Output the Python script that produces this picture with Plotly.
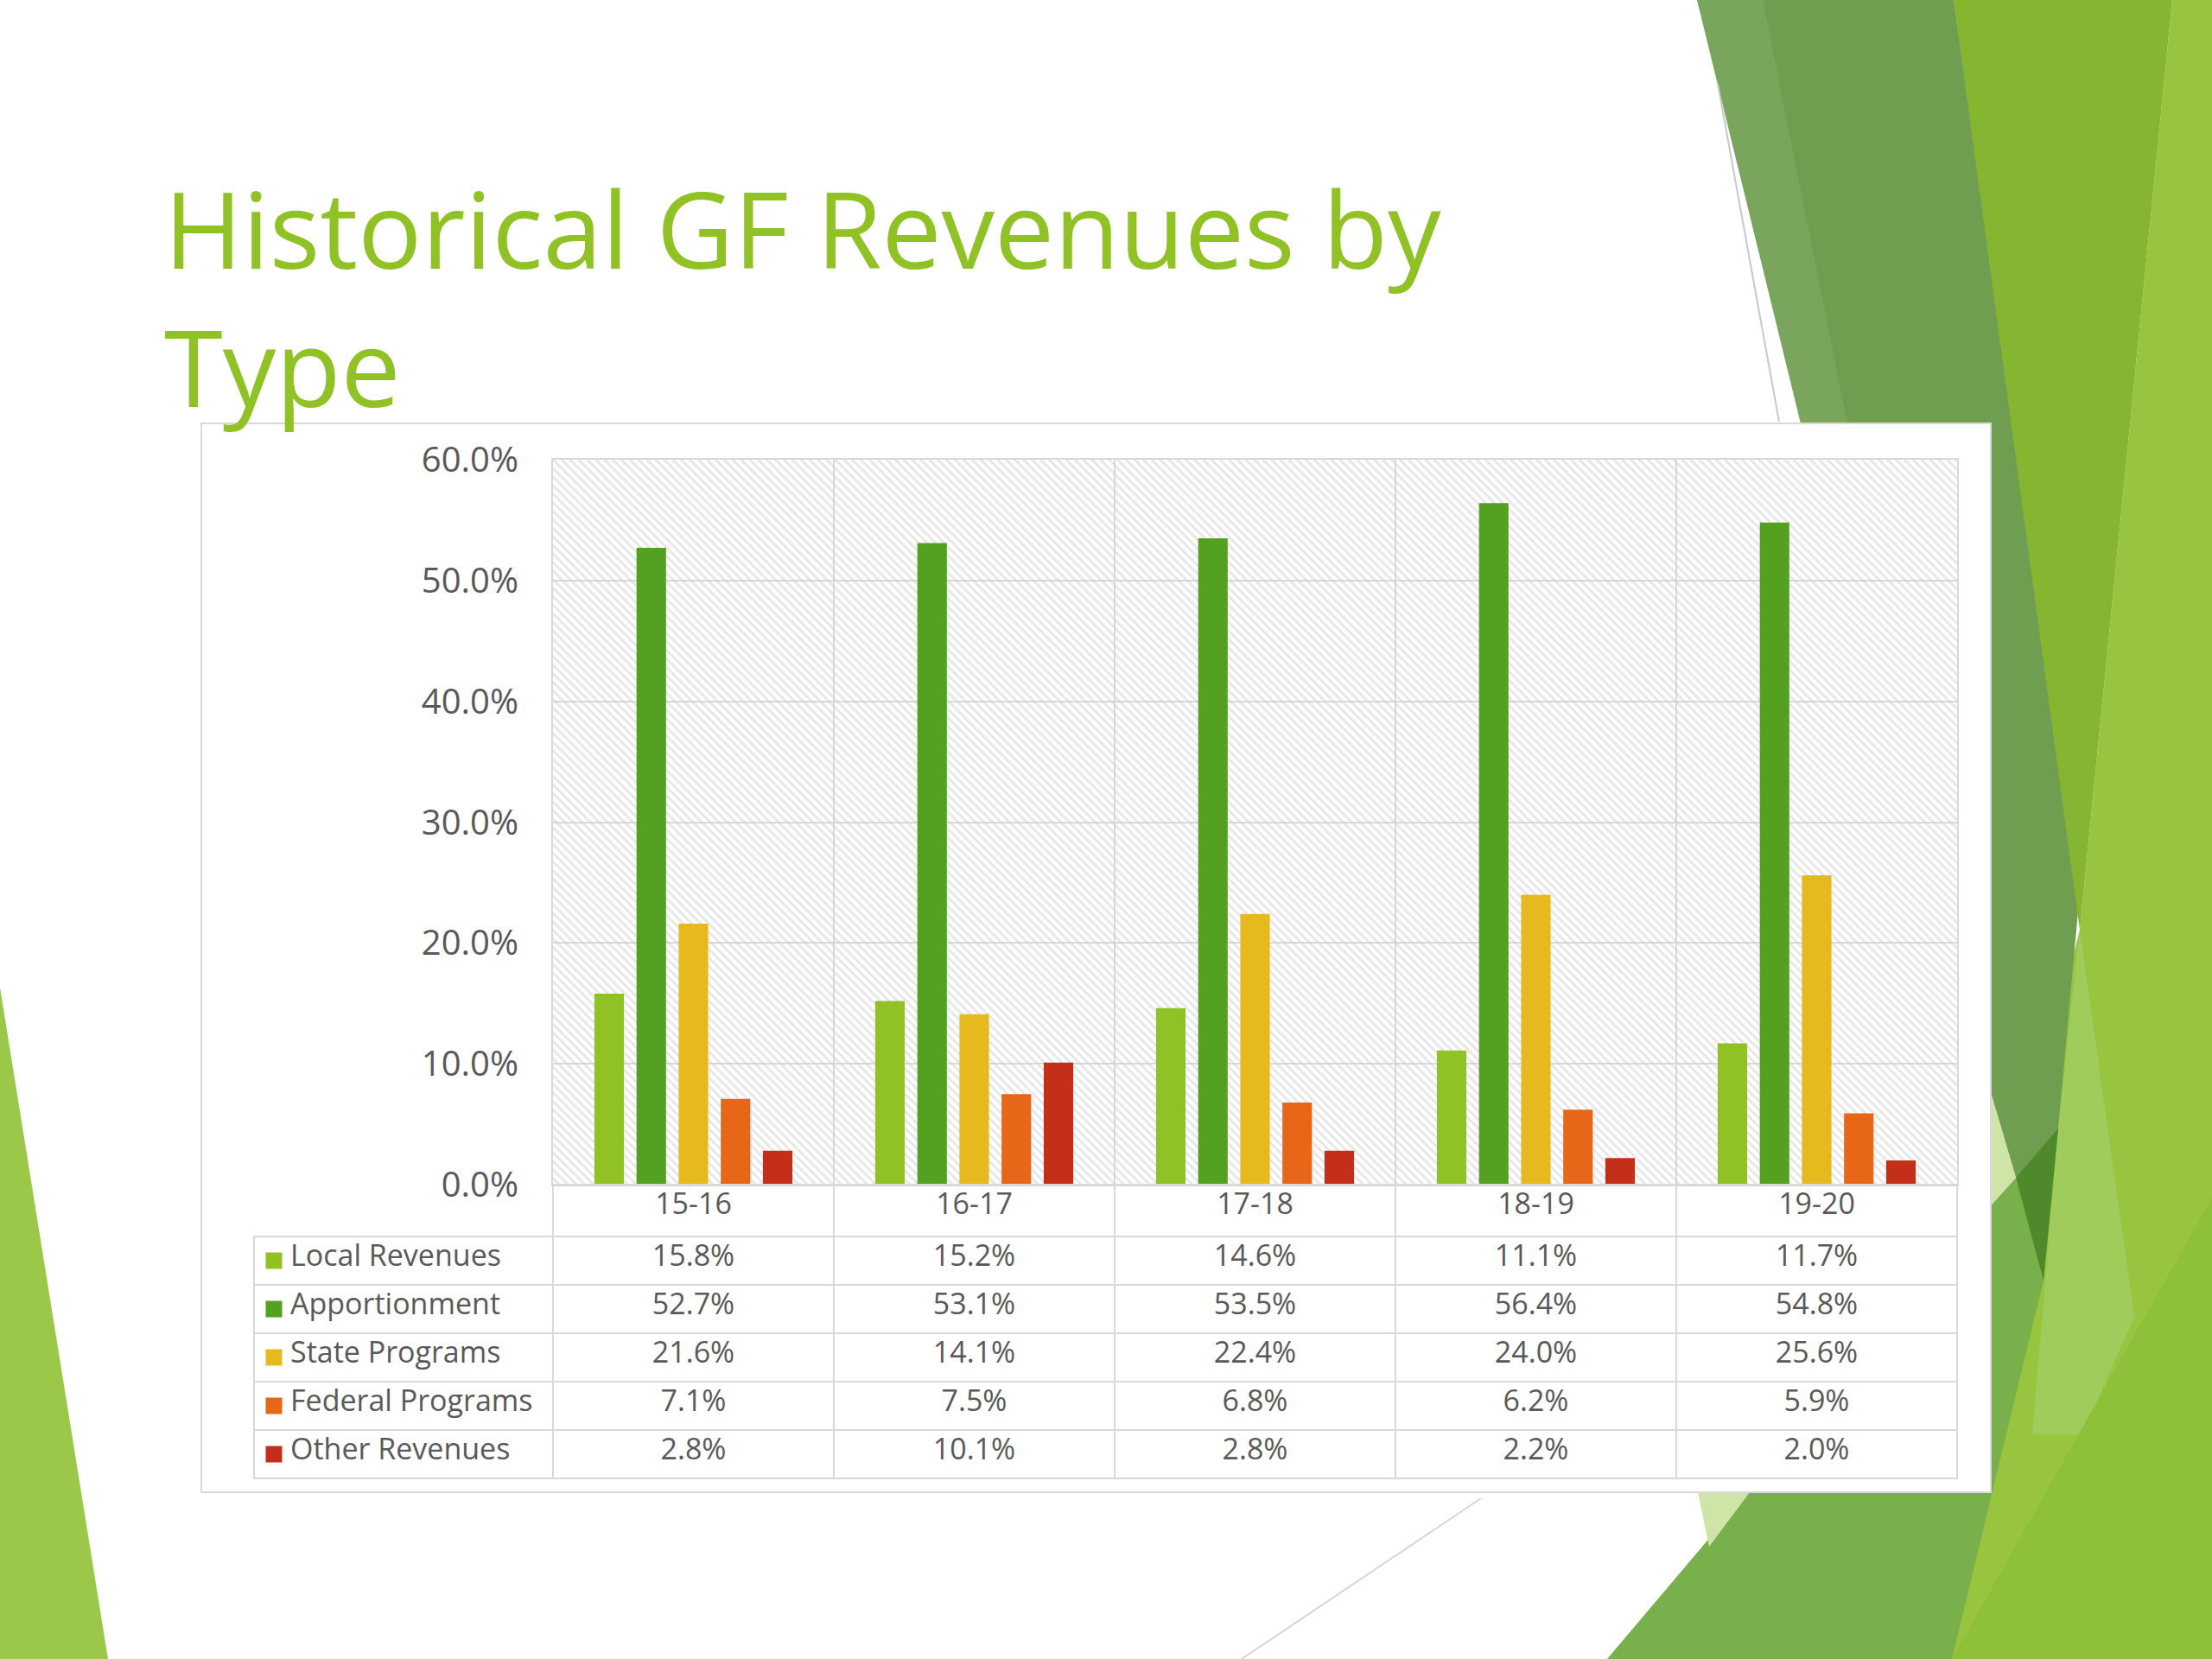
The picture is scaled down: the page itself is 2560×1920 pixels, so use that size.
import plotly.graph_objects as go

# ---- data ----
years = ["15-16", "16-17", "17-18", "18-19", "19-20"]
local_rev = [15.8, 15.2, 14.6, 11.1, 11.7]
apportionment = [52.7, 53.1, 53.5, 56.4, 54.8]
state_prog = [21.6, 14.1, 22.4, 24.0, 25.6]
federal_prog = [7.1, 7.5, 6.8, 6.2, 5.9]
other_rev = [2.8, 10.1, 2.8, 2.2, 2.0]

series_names = ["Local Revenues", "Apportionment", "State Programs",
                "Federal Programs", "Other Revenues"]
series_vals = [local_rev, apportionment, state_prog, federal_prog, other_rev]
series_cols = ["#90C226", "#54A021", "#E6B91E", "#E76618", "#C42F1A"]

W, H = 2560, 1920
TXT = "#595959"
GRID = "#d9d9d9"
FONT = "Open Sans, sans-serif"
HEAD_H = 60
ROW_H = 56


def px(x, y):
    # pixel (top-left origin) -> paper coords
    return x / W, 1 - y / H


def poly(points, color):
    pts = [px(x, y) for x, y in points]
    path = "M " + " L ".join(f"{a:.5f},{b:.5f}" for a, b in pts) + " Z"
    return dict(type="path", xref="paper", yref="paper", path=path,
                fillcolor=color, line=dict(width=0), layer="below")


def seg(p0, p1, color):
    (x0, y0), (x1, y1) = px(*p0), px(*p1)
    return dict(type="line", xref="paper", yref="paper", layer="below",
                x0=x0, y0=y0, x1=x1, y1=y1, line=dict(color=color, width=2))


# slide background decoration
shapes = [
    poly([(2514, 0), (2560, 0), (2560, 1920), (2200, 1920), (2407, 1076)], "#99c43f"),
    poly([(1964, 0), (2261, 0), (2410, 1000), (2382, 1306), (2365, 1482),
          (2333, 1363), (2305, 1268)], "#6f9e50"),
    poly([(1964, 0), (2040, 0), (2180, 700), (2150, 760)], "#79a65c"),
    poly([(2261, 0), (2514, 0), (2407, 1076)], "#85b531"),
    poly([(2407, 1076), (2470, 1524), (2410, 1660), (2352, 1660), (2382, 1306)], "#a0cc5c"),
    poly([(1860, 1920), (2305, 1394), (2333, 1363), (2365, 1482), (2259, 1920)], "#78b04b"),
    poly([(2333, 1363), (2382, 1306), (2365, 1482)], "#4e8a2b"),
    poly([(2305, 1268), (2333, 1363), (2305, 1394)], "#cfe5a8"),
    poly([(2259, 1920), (2560, 1386), (2560, 1920)], "#8fc03a"),
    poly([(1965, 1727), (2025, 1727), (1978, 1790)], "#cfe5a8"),
    poly([(0, 1143), (125, 1920), (0, 1920)], "#9cc84a"),
    seg((1988, 97), (2059, 488), "#c8c8c8"),
    seg((1714, 1734), (1437, 1920), "#d6d6d6"),
    # white chart box
    dict(type="rect", xref="paper", yref="paper", layer="below",
         x0=233 / W, y0=1 - 1727 / H, x1=2304 / W, y1=1 - 490 / H,
         fillcolor="white", line=dict(color=GRID, width=2)),
]

fig = go.Figure()

# hatched plot-area background on the base axes
fig.add_trace(go.Bar(
    x=[len(years) / 2], y=[60], width=[len(years)],
    marker=dict(color="rgba(0,0,0,0)", line_width=0,
                pattern=dict(shape="\\", fgcolor="#cdcdcd", bgcolor="rgba(255,255,255,0)",
                             size=7, solidity=0.4)),
    hoverinfo="skip", showlegend=False, xaxis="x", yaxis="y",
))

for name, vals, col in zip(series_names, series_vals, series_cols):
    fig.add_trace(go.Bar(
        x=years, y=vals, name=name, marker=dict(color=col, line_width=0),
        xaxis="x2", yaxis="y2", showlegend=False,
    ))

# legend keys in the table's label column
fig.add_trace(go.Scatter(
    x=[0.5] * len(series_names), y=series_names, mode="markers",
    marker=dict(symbol="square", size=19, color=series_cols),
    xaxis="x3", yaxis="y3", hoverinfo="skip", showlegend=False,
))

# data table under the plot
columns = [["\u2003" + n for n in series_names]]
for i in range(len(years)):
    columns.append([f"{v[i]:.1f}%" for v in series_vals])

tbl_top = 1371
rows_top = tbl_top + HEAD_H
tbl_bot = rows_top + ROW_H * len(series_names)
fig.add_trace(go.Table(
    domain=dict(x=[294 / W, 2265 / W], y=[1 - (tbl_bot + 4) / H, 1 - tbl_top / H]),
    columnwidth=[346] + [325] * len(years),
    header=dict(values=[""] + years, height=HEAD_H,
                fill_color="rgba(0,0,0,0)",
                line=dict(color=["rgba(0,0,0,0)"] + [GRID] * len(years), width=2),
                font=dict(family=FONT, size=34, color=TXT), align="center"),
    cells=dict(values=columns, height=ROW_H, fill_color="rgba(0,0,0,0)",
               line=dict(color=GRID, width=2),
               font=dict(family=FONT, size=34, color=TXT),
               align=["left"] + ["center"] * len(years)),
))

fig.update_layout(
    width=W, height=H,
    margin=dict(l=0, r=0, t=0, b=0, autoexpand=False),
    paper_bgcolor="white", plot_bgcolor="rgba(0,0,0,0)",
    font=dict(family=FONT, color=TXT),
    showlegend=False,
    barmode="group", bargap=0.25, bargroupgap=0.3,
    shapes=shapes,
    xaxis=dict(domain=[640 / W, 2265 / W], range=[0, len(years)],
               tickvals=list(range(len(years) + 1)), showticklabels=False,
               showgrid=True, gridcolor=GRID, gridwidth=2, zeroline=False,
               showline=True, mirror=True, linecolor=GRID, linewidth=2),
    yaxis=dict(domain=[1 - tbl_top / H, 1 - 532 / H], range=[0, 60], dtick=10,
               tickformat=".1f", ticksuffix="%", tickfont=dict(size=40, color=TXT),
               ticklabelstandoff=30,
               showgrid=True, gridcolor=GRID, gridwidth=2, zeroline=False,
               showline=True, mirror=True, linecolor=GRID, linewidth=2),
    xaxis2=dict(overlaying="x", range=[-0.5, len(years) - 0.5], visible=False),
    yaxis2=dict(overlaying="y", range=[0, 60], visible=False),
    xaxis3=dict(domain=[294 / W, 340 / W], range=[0, 1], visible=False, anchor="y3"),
    yaxis3=dict(domain=[1 - tbl_bot / H, 1 - rows_top / H],
                type="category", categoryarray=series_names,
                range=[len(series_names) - 0.5, -0.5], visible=False, anchor="x3"),
    annotations=[
        dict(text="Historical GF Revenues by<br>Type", xref="paper", yref="paper",
             x=188 / W, y=1 - 343 / H, xanchor="left", yanchor="middle", align="left",
             showarrow=False, font=dict(family=FONT, size=123, color="#90C226")),
    ],
)

fig.write_html(
    "out.html",
    config={"displayModeBar": False},
    post_script=("document.body.style.margin='0';"
                 "var gd=document.getElementById('{plot_id}');"
                 "gd.style.position='fixed';gd.style.top='0';gd.style.left='0';"),
)
